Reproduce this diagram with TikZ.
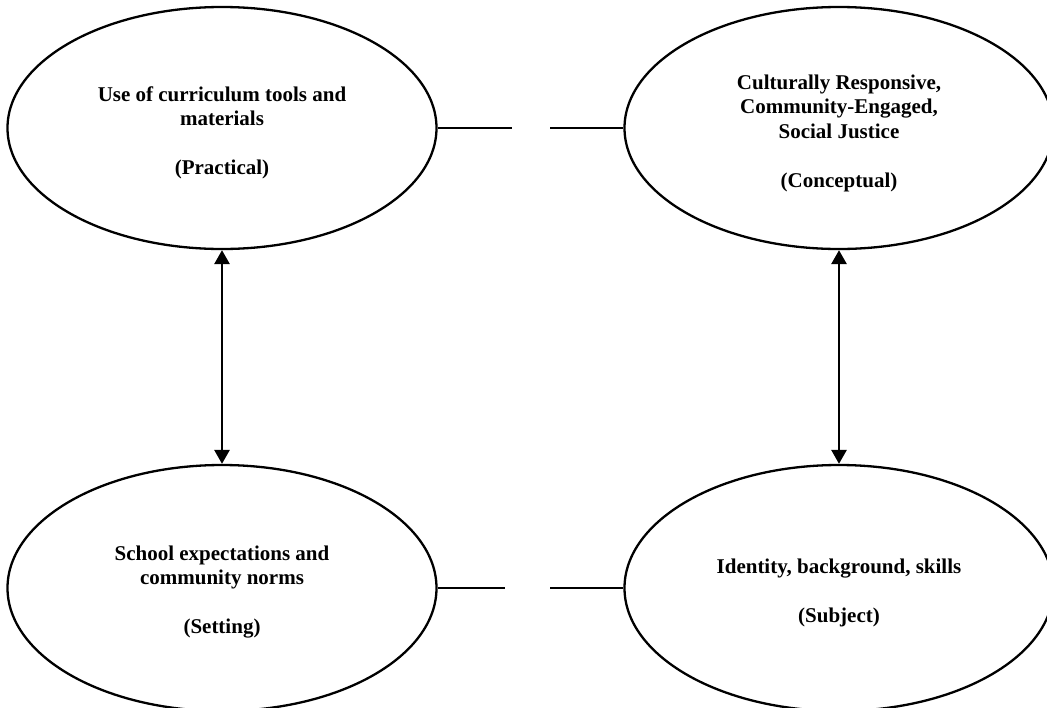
\documentclass[tikz,border=0pt]{standalone}
\usepackage{fontspec}
\setmainfont{Liberation Serif}
\usetikzlibrary{arrows.meta,shapes.geometric}
\begin{document}
\begin{tikzpicture}[x=1pt,y=-1pt,
  oval/.style={ellipse,draw,line width=2.3pt,inner sep=0pt,minimum width=429pt,minimum height=242pt},
  txt/.style={align=center,inner sep=0pt,font=\fontsize{21}{24.5}\selectfont\bfseries},
  conn/.style={line width=2.2pt},
  dbl/.style={line width=2.8pt,{Triangle[length=14pt,width=15pt]}-{Triangle[length=14pt,width=15pt]}}]
\useasboundingbox (0,0) rectangle (1047,707);
\node[oval] (tl) at (222,128) {};
\node[oval] (tr) at (839,128) {};
\node[oval,minimum height=246pt] (bl) at (222,588) {};
\node[oval,minimum height=246pt] (br) at (839,588) {};
\node[txt] (tltext) at ([yshift=-5pt]tl.center) {Use of curriculum tools and\\ materials\\[24.5pt] (Practical)};
\node[txt] (trtext) at ([yshift=-5pt]tr.center) {Culturally Responsive,\\ Community-Engaged,\\ Social Justice\\[24.5pt] (Conceptual)};
\node[txt] (bltext) at ([yshift=-4pt]bl.center) {School expectations and\\ community norms\\[24.5pt] (Setting)};
\node[txt] (brtext) at ([yshift=-5pt]br.center) {Identity, background, skills\\[24.5pt] (Subject)};
\coordinate (t1) at (512,128);
\coordinate (t2) at (550,128);
\coordinate (b1) at (505,588);
\coordinate (b2) at (550,588);
\draw[conn] (tl.east) -- (t1);
\draw[conn] (t2) -- (tr.west);
\draw[conn] (bl.east) -- (b1);
\draw[conn] (b2) -- (br.west);
\draw[dbl] (tl.south) -- (bl.north);
\draw[dbl] (tr.south) -- (br.north);
\end{tikzpicture}
\end{document}
